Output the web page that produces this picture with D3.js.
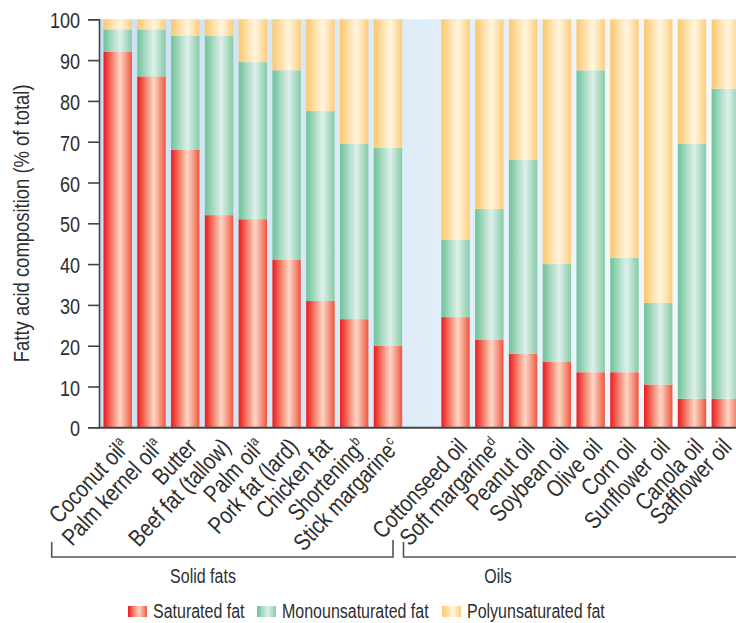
<!DOCTYPE html>
<html>
<head>
<meta charset="utf-8">
<script src="https://cdn.jsdelivr.net/npm/d3@7"></script>
<style>
  html, body { margin: 0; padding: 0; background: #fff; }
  svg { display: block; }
  text { font-family: "Liberation Sans", Arial, sans-serif; fill: #2e2e2e; }
</style>
</head>
<body>
<svg id="chart" width="736" height="623"></svg>
<script>
// ---------- data ----------
const solidFats = ["Coconut oil", "Palm kernel oil", "Butter", "Beef fat (tallow)", "Palm oil",
                   "Pork fat (lard)", "Chicken fat", "Shortening", "Stick margarine"];
const solidNotes = ["a", "a", "", "", "a", "", "", "b", "c"];
const oils = ["Cottonseed oil", "Soft margarine", "Peanut oil", "Soybean oil", "Olive oil",
              "Corn oil", "Sunflower oil", "Canola oil", "Safflower oil"];
const oilNotes = ["", "d", "", "", "", "", "", "", ""];

const saturated       = [92, 86, 68, 52, 51, 41, 31, 26.5, 20,   27, 21.5, 18, 16, 13.5, 13.5, 10.5, 7, 7];
const monounsaturated = [5.5, 11.5, 28, 44, 38.5, 46.5, 46.5, 43, 48.5,   19, 32, 47.5, 24, 74, 28, 20, 62.5, 76];
const polyunsaturated = [2.5, 2.5, 4, 4, 10.5, 12.5, 22.5, 30.5, 31.5,   54, 46.5, 34.5, 60, 12.5, 58.5, 69.5, 30.5, 17];

const seriesKeys  = ["sat", "mono", "poly"];
const seriesNames = ["Saturated fat", "Monounsaturated fat", "Polyunsaturated fat"];
const groupLabels = ["Solid fats", "Oils"];
const yTicks = [0, 10, 20, 30, 40, 50, 60, 70, 80, 90, 100];
const yTitle = "Fatty acid composition (% of total)";

// ---------- setup ----------
const svg = d3.select("#chart");
const GAP = "__gap__";
const categories = [...solidFats, ...oils];
const notes = [...solidNotes, ...oilNotes];
const rows = categories.map((c, i) => ({
  name: c, note: notes[i],
  sat: saturated[i], mono: monounsaturated[i], poly: polyunsaturated[i]
}));
const slots = [...solidFats, GAP, ...oils];

const W = 736;
const plotLeft = 99, plotTop = 19.3, plotBottom = 427.3, plotRight = 740;
const x = d3.scaleBand().domain(slots).range([103.5, 740]).paddingInner(0.159).paddingOuter(0);
const y = d3.scaleLinear().domain([0, 100]).range([plotBottom, plotTop]);
const NARROW = "scale(0.82,1)";   // condensed look of the original typeface

// ---------- gradients ----------
const defs = svg.append("defs");
const bg = defs.append("linearGradient").attr("id", "bg")
  .attr("gradientUnits", "userSpaceOnUse")
  .attr("x1", plotLeft).attr("x2", plotRight).attr("y1", 0).attr("y2", 0);
[[0, "#cbe0f2"], [0.5, "#dfedf8"], [1, "#f8fbfe"]].forEach(([o, c]) =>
  bg.append("stop").attr("offset", o).attr("stop-color", c));

const barStops = {
  sat:  [[0, "#ec1c24"], [0.08, "#ee3430"], [0.35, "#f4907a"], [0.58, "#fdd6c6"], [0.8, "#f59680"], [1, "#ee5540"]],
  mono: [[0, "#72c39c"], [0.08, "#7cc8a2"], [0.35, "#b4dfcb"], [0.58, "#ddf0ea"], [0.8, "#b0dcc6"], [1, "#85cba8"]],
  poly: [[0, "#fdc970"], [0.08, "#fdcd7a"], [0.35, "#fee4b4"], [0.58, "#fff5e0"], [0.8, "#fee1ad"], [1, "#fdcc78"]]
};
seriesKeys.forEach(k => {
  const g = defs.append("linearGradient").attr("id", "g-" + k)
    .attr("x1", 0).attr("x2", 1).attr("y1", 0).attr("y2", 0);
  barStops[k].forEach(([o, c]) => g.append("stop").attr("offset", o).attr("stop-color", c));
});

// ---------- background ----------
svg.append("rect")
  .attr("x", plotLeft).attr("y", plotTop)
  .attr("width", plotRight - plotLeft).attr("height", plotBottom - plotTop)
  .attr("fill", "url(#bg)");

// ---------- bars ----------
const stacked = d3.stack().keys(seriesKeys)(rows);
svg.append("g").selectAll("g").data(stacked).join("g")
  .attr("fill", d => "url(#g-" + d.key + ")")
  .selectAll("rect").data(d => d).join("rect")
  .attr("x", d => x(d.data.name))
  .attr("y", d => y(d[1]))
  .attr("width", x.bandwidth())
  .attr("height", d => y(d[0]) - y(d[1]));

// ---------- axes ----------
const yAxis = svg.append("g")
  .attr("transform", `translate(${plotLeft},0)`)
  .call(d3.axisLeft(y).tickValues(yTicks).tickSize(11).tickPadding(8).tickFormat(d3.format("d")));
yAxis.select(".domain").attr("stroke", "#444").attr("stroke-width", 1.6);
yAxis.selectAll(".tick line").attr("stroke", "#444").attr("stroke-width", 1.6);
yAxis.selectAll(".tick text")
  .attr("x", null).attr("dy", null)
  .attr("dominant-baseline", "central")
  .attr("transform", `translate(-19,1) ${NARROW}`)
  .attr("font-size", 22).attr("fill", "#2e2e2e");

svg.append("line")
  .attr("x1", plotLeft - 1).attr("x2", plotRight)
  .attr("y1", plotBottom + 0.5).attr("y2", plotBottom + 0.5)
  .attr("stroke", "#444").attr("stroke-width", 2);

svg.append("text")
  .attr("transform", `translate(29,${(plotTop + plotBottom) / 2}) rotate(-90) ${NARROW}`)
  .attr("text-anchor", "middle")
  .attr("font-size", 22.5)
  .text(yTitle);

// ---------- category labels ----------
const labels = svg.append("g").selectAll("text").data(rows).join("text")
  .attr("transform", d => {
    const px = Math.min(x(d.name) + x.bandwidth() / 2 + 13, W - 3);
    return `translate(${px},448) rotate(-47) ${NARROW}`;
  })
  .attr("text-anchor", "end")
  .attr("font-size", 24);
labels.append("tspan").text(d => d.name);
labels.filter(d => d.note).append("tspan")
  .attr("font-size", 14).attr("dy", -9).text(d => d.note);

// ---------- group brackets ----------
const br = svg.append("g").attr("fill", "none").attr("stroke", "#555").attr("stroke-width", 1.6);
br.append("path").attr("d", "M51.7,542 V557 H393 V540");
br.append("path").attr("d", "M403.5,542 V557 H740");
svg.append("text").attr("transform", `translate(203,583) ${NARROW}`).attr("text-anchor", "middle")
  .attr("font-size", 19.5).text(groupLabels[0]);
svg.append("text").attr("transform", `translate(498,583) ${NARROW}`).attr("text-anchor", "middle")
  .attr("font-size", 19.5).text(groupLabels[1]);

// ---------- legend ----------
const legendX = [128, 257, 442];
const lg = svg.append("g").selectAll("g").data(seriesKeys).join("g")
  .attr("transform", (d, i) => `translate(${legendX[i]},606)`);
lg.append("rect").attr("width", 19).attr("height", 11).attr("fill", d => "url(#g-" + d + ")");
lg.append("text").attr("transform", `translate(25,12) ${NARROW}`).attr("font-size", 19.5)
  .text((d, i) => seriesNames[i]);
</script>
</body>
</html>
